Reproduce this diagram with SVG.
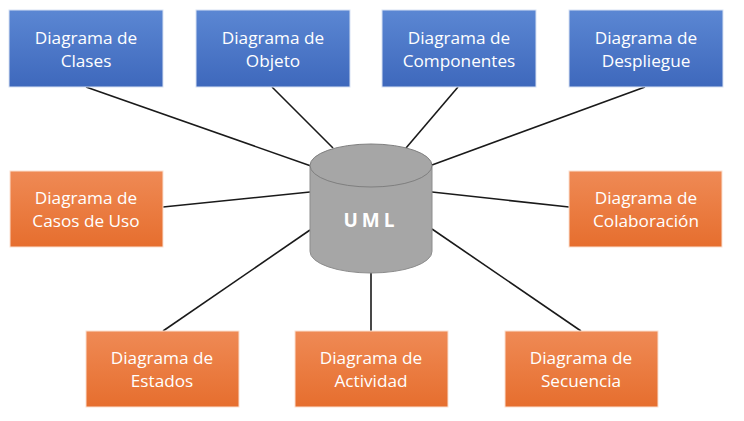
<svg xmlns="http://www.w3.org/2000/svg" width="744" height="421" viewBox="0 0 744 421">
<defs>
<linearGradient id="gb" x1="0" y1="0" x2="0" y2="1"><stop offset="0" stop-color="#5B87D3"/><stop offset="1" stop-color="#3E68BC"/></linearGradient>
<linearGradient id="go" x1="0" y1="0" x2="0" y2="1"><stop offset="0" stop-color="#EF8A55"/><stop offset="1" stop-color="#E66E2E"/></linearGradient>
<style>
.b{fill:url(#gb);stroke:#D8E2F3;stroke-width:1}
.o{fill:url(#go);stroke:#FBE0D0;stroke-width:1}
.t{font-family:"Open Sans","Liberation Sans",sans-serif;font-size:17.2px;fill:#fff;text-anchor:middle}
.c{stroke:#1a1a1a;stroke-width:1.6;fill:none}
</style>
</defs>
<rect width="744" height="421" fill="#fff"/>
<g id="connectors">
<line class="c" x1="86" y1="87" x2="311" y2="166"/>
<line class="c" x1="272" y1="87" x2="333" y2="148"/>
<line class="c" x1="458" y1="87" x2="406" y2="148"/>
<line class="c" x1="645" y1="87" x2="432" y2="165"/>
<line class="c" x1="163" y1="207" x2="310" y2="192"/>
<line class="c" x1="569" y1="207" x2="432" y2="192"/>
<line class="c" x1="163" y1="331" x2="310" y2="230"/>
<line class="c" x1="371" y1="331" x2="371" y2="273"/>
<line class="c" x1="581" y1="331" x2="432" y2="229"/>
</g>
<g id="uml">
<path d="M310,165.5 V251.5 A61,21.5 0 0 0 432,251.5 V165.5" fill="#A6A6A6" stroke="#8C8C8C" stroke-width="1"/>
<ellipse cx="371" cy="165.5" rx="61" ry="21.5" fill="#A6A6A6" stroke="#7F7F7F" stroke-width="1"/>
<text x="371" y="227" font-family="'Open Sans','Liberation Sans',sans-serif" font-size="19" font-weight="bold" fill="#fff" text-anchor="middle" letter-spacing="4">UML</text>
</g>
<g id="clases"><rect class="b" x="9" y="10" width="154" height="77"/><text class="t" x="86" y="44">Diagrama de</text><text class="t" x="86" y="67">Clases</text></g>
<g id="objeto"><rect class="b" x="196" y="10" width="154" height="77"/><text class="t" x="273" y="44">Diagrama de</text><text class="t" x="273" y="67">Objeto</text></g>
<g id="componentes"><rect class="b" x="382" y="10" width="154" height="77"/><text class="t" x="459" y="44">Diagrama de</text><text class="t" x="459" y="67">Componentes</text></g>
<g id="despliegue"><rect class="b" x="569" y="10" width="154" height="77"/><text class="t" x="646" y="44">Diagrama de</text><text class="t" x="646" y="67">Despliegue</text></g>
<g id="casos"><rect class="o" x="10" y="171" width="153" height="76"/><text class="t" x="86" y="204">Diagrama de</text><text class="t" x="86" y="227">Casos de Uso</text></g>
<g id="colaboracion"><rect class="o" x="569" y="171" width="153" height="76"/><text class="t" x="646" y="204">Diagrama de</text><text class="t" x="646" y="227">Colaboración</text></g>
<g id="estados"><rect class="o" x="86" y="331" width="153" height="76"/><text class="t" x="162" y="364">Diagrama de</text><text class="t" x="162" y="387">Estados</text></g>
<g id="actividad"><rect class="o" x="295" y="331" width="153" height="76"/><text class="t" x="371" y="364">Diagrama de</text><text class="t" x="371" y="387">Actividad</text></g>
<g id="secuencia"><rect class="o" x="505" y="331" width="153" height="76"/><text class="t" x="581" y="364">Diagrama de</text><text class="t" x="581" y="387">Secuencia</text></g>
</svg>
